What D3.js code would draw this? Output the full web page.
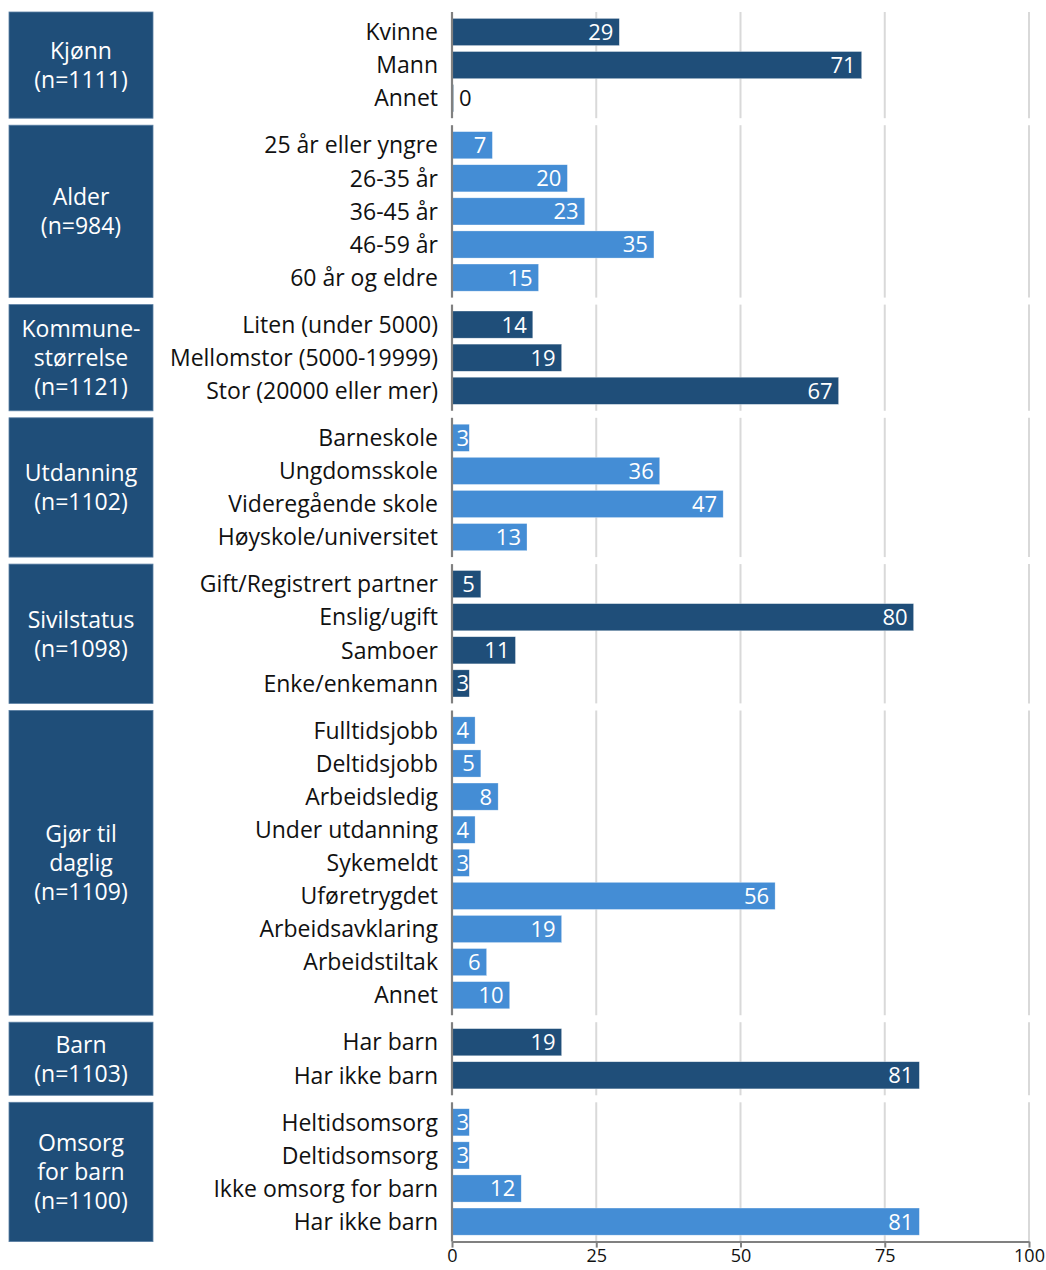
<!DOCTYPE html>
<html>
<head>
<meta charset="utf-8">
<script src="https://cdn.jsdelivr.net/npm/d3@7"></script>
<style>
  body { margin: 0; background: #fff; }
  svg { display: block; font-family: "Open Sans", Lato, sans-serif; }
</style>
</head>
<body>
<div id="chart"></div>
<script>
// data
const groupLines = [
  ["Kjønn"],
  ["Alder"],
  ["Kommune-", "størrelse"],
  ["Utdanning"],
  ["Sivilstatus"],
  ["Gjør til", "daglig"],
  ["Barn"],
  ["Omsorg", "for barn"]
];
const groupN = [1111, 984, 1121, 1102, 1098, 1109, 1103, 1100];
const categories = [
  ["Kvinne", "Mann", "Annet"],
  ["25 år eller yngre", "26-35 år", "36-45 år", "46-59 år", "60 år og eldre"],
  ["Liten (under 5000)", "Mellomstor (5000-19999)", "Stor (20000 eller mer)"],
  ["Barneskole", "Ungdomsskole", "Videregående skole", "Høyskole/universitet"],
  ["Gift/Registrert partner", "Enslig/ugift", "Samboer", "Enke/enkemann"],
  ["Fulltidsjobb", "Deltidsjobb", "Arbeidsledig", "Under utdanning", "Sykemeldt",
   "Uføretrygdet", "Arbeidsavklaring", "Arbeidstiltak", "Annet"],
  ["Har barn", "Har ikke barn"],
  ["Heltidsomsorg", "Deltidsomsorg", "Ikke omsorg for barn", "Har ikke barn"]
];
const values = [
  [29, 71, 0],
  [7, 20, 23, 35, 15],
  [14, 19, 67],
  [3, 36, 47, 13],
  [5, 80, 11, 3],
  [4, 5, 8, 4, 3, 56, 19, 6, 10],
  [19, 81],
  [3, 3, 12, 81]
];
const xTicks = [0, 25, 50, 75, 100];

// layout
const W = 1046, H = 1270;
const DARK = "#1f4e79", LIGHT = "#448dd5";
const ROW = 33.1, BOX_PAD = 3.45, GAP = 7, TOP = 12;
const boxX0 = 9, boxX1 = 153;
const labelX = 438;

const x = d3.scaleLinear().domain([0, 100]).range([452, 1029]);

const svg = d3.select("#chart").append("svg")
  .attr("width", W).attr("height", H);

// build group bands
let cur = TOP;
const groups = categories.map((cats, i) => {
  const h = cats.length * ROW + 2 * BOX_PAD;
  const g = {
    i, cats, vals: values[i], top: cur, bottom: cur + h,
    color: i % 2 === 0 ? DARK : LIGHT,
    y: d3.scaleBand().domain(cats)
      .range([cur + BOX_PAD, cur + h - BOX_PAD])
      .paddingInner(0.18).paddingOuter(0.09)
  };
  cur += h + GAP;
  return g;
});

const gg = svg.selectAll("g.group").data(groups).enter()
  .append("g").attr("class", "group");

// group boxes
gg.append("rect")
  .attr("x", boxX0).attr("y", d => d.top)
  .attr("width", boxX1 - boxX0).attr("height", d => d.bottom - d.top)
  .attr("fill", DARK)
  .attr("stroke", "#5b7fa3").attr("stroke-width", 0.8);

gg.each(function(d) {
  const lines = groupLines[d.i].concat([`(n=${groupN[d.i]})`]);
  const cy = (d.top + d.bottom) / 2;
  const lh = 29;
  d3.select(this).selectAll("text.glabel").data(lines).enter()
    .append("text")
    .attr("class", "glabel")
    .attr("x", (boxX0 + boxX1) / 2)
    .attr("y", (l, k) => cy + (k - (lines.length - 1) / 2) * lh)
    .attr("dy", "0.36em")
    .attr("text-anchor", "middle")
    .attr("fill", "#fff")
    .attr("font-size", 23)
    .text(l => l);
});

// gridlines per group
gg.selectAll("line.grid").data(d => xTicks.slice(1).map(t => ({ t, d }))).enter()
  .append("line")
  .attr("x1", o => x(o.t)).attr("x2", o => x(o.t))
  .attr("y1", o => o.d.top).attr("y2", o => o.d.bottom)
  .attr("stroke", "#d9d9d9").attr("stroke-width", 2);

// bars
gg.selectAll("rect.bar").data(d => d.cats.map((c, k) => ({ c, v: d.vals[k], d }))).enter()
  .append("rect")
  .attr("class", "bar")
  .attr("x", x(0))
  .attr("y", o => o.d.y(o.c))
  .attr("width", o => Math.max(x(o.v) - x(0), 1.5))
  .attr("height", o => o.d.y.bandwidth())
  .attr("fill", o => o.d.color)
  .attr("stroke", "rgba(255,255,255,0.5)").attr("stroke-width", 0.6);

// left axis line per group
gg.append("line")
  .attr("x1", x(0)).attr("x2", x(0))
  .attr("y1", d => d.top).attr("y2", d => d.bottom)
  .attr("stroke", "#808080").attr("stroke-width", 2.2);

// category labels
gg.selectAll("text.cat").data(d => d.cats.map(c => ({ c, d }))).enter()
  .append("text")
  .attr("x", labelX)
  .attr("y", o => o.d.y(o.c) + o.d.y.bandwidth() / 2)
  .attr("dy", "0.36em")
  .attr("text-anchor", "end")
  .attr("fill", "#111")
  .attr("font-size", 23)
  .text(o => o.c);

// value labels
gg.selectAll("text.val").data(d => d.cats.map((c, k) => ({ c, v: d.vals[k], d }))).enter()
  .append("text")
  .attr("y", o => o.d.y(o.c) + o.d.y.bandwidth() / 2)
  .attr("dy", "0.36em")
  .attr("font-size", 22)
  .attr("fill", o => o.v === 0 ? "#111" : "#fff")
  .attr("text-anchor", o => o.v === 0 ? "start" : "end")
  .attr("x", o => o.v === 0 ? x(0) + 7 : Math.max(x(o.v) - 6, x(0) + 17))
  .text(o => o.v);

// bottom axis
const last = groups[groups.length - 1];
const axis = svg.append("g")
  .attr("transform", `translate(0,${last.bottom})`)
  .call(d3.axisBottom(x).tickValues(xTicks).tickSize(6).tickSizeOuter(0));
axis.select(".domain").attr("stroke", "#808080").attr("stroke-width", 2);
axis.selectAll(".tick line").attr("stroke", "#808080").attr("stroke-width", 2);
axis.selectAll(".tick text")
  .attr("font-family", "'Open Sans', sans-serif")
  .attr("font-size", 18).attr("fill", "#111").attr("y", 8);
</script>
</body>
</html>
